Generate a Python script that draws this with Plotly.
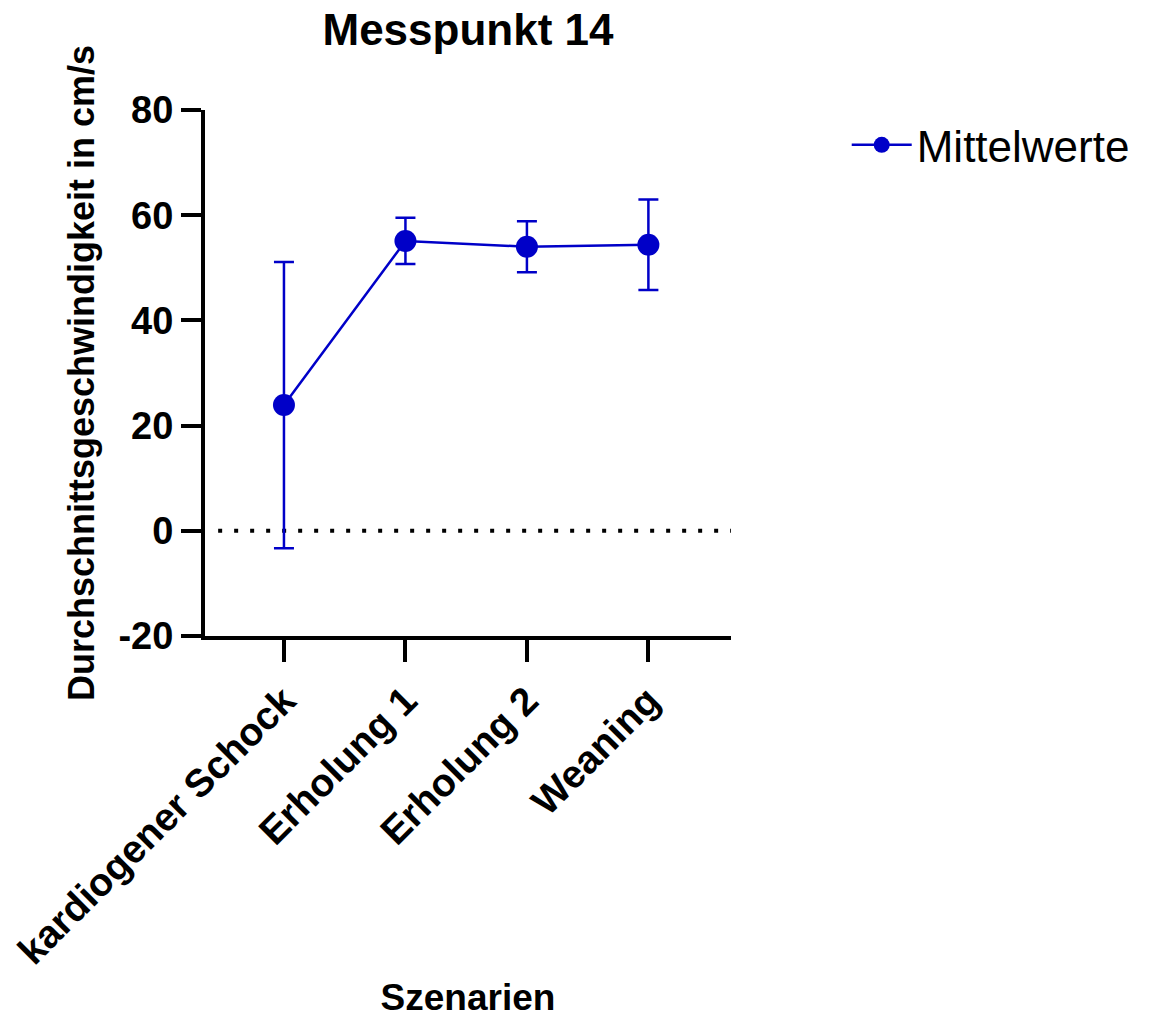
import plotly.graph_objects as go

categories = ["kardiogener Schock", "Erholung 1", "Erholung 2", "Weaning"]
means = [23.9, 55.1, 54.0, 54.4]
errors = [27.2, 4.4, 4.85, 8.6]
y_ticks = [-20, 0, 20, 40, 60, 80]

BLUE = "#0000C8"
FONT = "Liberation Sans, Arial, sans-serif"

fig = go.Figure()
fig.add_trace(go.Scatter(
    x=list(range(len(categories))), y=means, name="Mittelwerte",
    mode="lines+markers",
    line=dict(color=BLUE, width=2.5),
    marker=dict(color=BLUE, size=22, symbol="circle"),
    error_y=dict(type="data", array=errors, visible=True, color=BLUE, thickness=2.5, width=10),
))

fig.add_shape(type="line", xref="paper", yref="y", x0=0.025, x1=1, y0=0, y1=0,
              line=dict(color="black", width=4, dash="4px,12px"), layer="below")

fig.update_layout(
    width=1156, height=1018,
    margin=dict(l=205, r=425, t=110, b=382),
    paper_bgcolor="white", plot_bgcolor="white",
    font=dict(family=FONT, color="black"),
    title=dict(text="<b>Messpunkt 14</b>", x=(205 + 731) / 2 / 1156, xanchor="center",
               y=1 - 30 / 1018, yanchor="middle", font=dict(size=44, family=FONT, color="black")),
    showlegend=True,
    legend=dict(x=1.22, y=0.933, xanchor="left", yanchor="middle", itemwidth=60,
                font=dict(size=44, family=FONT, color="black"), bgcolor="rgba(0,0,0,0)"),
    xaxis=dict(
        range=[-0.65, 3.68], tickmode="array", tickvals=list(range(len(categories))),
        ticktext=["<b>%s</b>" % c for c in categories], tickangle=-45,
        showline=True, linecolor="black", linewidth=4, mirror=False,
        ticks="outside", ticklen=22, tickwidth=4, tickcolor="black",
        showgrid=False, zeroline=False,
        tickfont=dict(size=39, family=FONT, color="black"),
        title=dict(text="<b>Szenarien</b>", font=dict(size=37, family=FONT, color="black"), standoff=20),
    ),
    yaxis=dict(
        range=[-20, 80], tickmode="array", tickvals=y_ticks,
        ticktext=["<b>%d</b>" % v for v in y_ticks],
        showline=True, linecolor="black", linewidth=4,
        ticks="outside", ticklen=20, tickwidth=4, tickcolor="black",
        showgrid=False, zeroline=False,
        tickfont=dict(size=38, family=FONT, color="black"),
        title=dict(text="<b>Durchschnittsgeschwindigkeit in cm/s</b>",
                   font=dict(size=36, family=FONT, color="black"), standoff=14),
    ),
)
fig.update_xaxes(automargin=False)
fig.update_yaxes(automargin=False)

fig.write_html("out.html")
